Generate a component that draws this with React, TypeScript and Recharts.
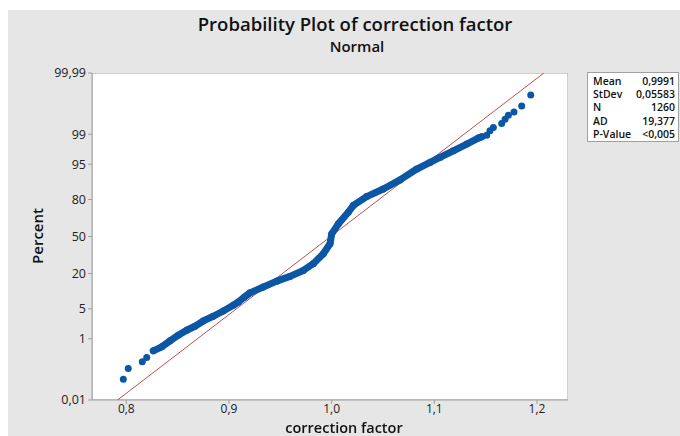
import React from 'react';
import { ScatterChart, Scatter, XAxis, YAxis, CartesianGrid, ReferenceArea } from 'recharts';

// ---- data ----
const xTicks = [0.8, 0.9, 1.0, 1.1, 1.2];
const xGrid = [0.8, 0.85, 0.9, 0.95, 1.0, 1.05, 1.1, 1.15, 1.2];
const yTickPct = [0.01, 1, 5, 20, 50, 80, 95, 99, 99.99];
const yTickLabels = ['0,01', '1', '5', '20', '50', '80', '95', '99', '99,99'];
const yGridPct = [1, 5, 20, 50, 80, 95, 99];

// dense part of the sample (continuous band)
const bandX = [0.8263, 0.8345, 0.8426, 0.8506, 0.8588, 0.8669, 0.875, 0.8847, 0.8945, 0.9042, 0.9091, 0.9146, 0.9205, 0.9334, 0.9465, 0.9594, 0.9724, 0.9821, 0.9919, 0.9984, 1.0001, 1.0065, 1.0162, 1.0211, 1.0341, 1.0503, 1.0666, 1.0829, 1.0958, 1.1055, 1.1185, 1.1316, 1.1428, 1.1462];
const bandPct = [0.465, 0.604, 0.88, 1.24, 1.65, 2.06, 2.74, 3.48, 4.51, 5.88, 6.81, 8.3, 10.0, 12.5, 15.5, 18.2, 22.0, 26.8, 34.7, 43.4, 52.4, 61.3, 70.9, 76.0, 81.8, 86.0, 90.1, 93.76, 95.4, 96.39, 97.44, 98.22, 98.74, 98.83];

// sparse tails (separate dots)
const tailX = [0.7971, 0.8019, 0.8156, 0.8199, 1.151, 1.1542, 1.1575, 1.1656, 1.1689, 1.1721, 1.1776, 1.1851, 1.1939];
const tailPct = [0.058, 0.135, 0.219, 0.297, 98.94, 99.19, 99.34, 99.49, 99.62, 99.71, 99.77, 99.85, 99.936];

// fitted normal line (Mean 0,9991, StDev 0,05583) endpoints
const fitX = [0.7915, 1.2067];
const fitPct = [0.01, 99.99];

const statLabels = ['Mean', 'StDev', 'N', 'AD', 'P-Value'];
const statValues = ['0,9991', '0,05583', '1260', '19,377', '<0,005'];

// ---- probability-scale transform (inverse normal CDF) ----
function probit(p: number): number {
  const a = [-3.969683028665376e1, 2.209460984245205e2, -2.759285104469687e2, 1.38357751867269e2, -3.066479806614716e1, 2.506628277459239];
  const b = [-5.447609879822406e1, 1.615858368580409e2, -1.556989798598866e2, 6.680131188771972e1, -1.328068155288572e1];
  const c = [-7.784894002430293e-3, -3.223964580411365e-1, -2.400758277161838, -2.549732539343734, 4.374664141464968, 2.938163982698783];
  const d = [7.784695709041462e-3, 3.224671290700398e-1, 2.445134137142996, 3.754408661907416];
  const pl = 0.02425;
  let q: number, r: number;
  if (p < pl) {
    q = Math.sqrt(-2 * Math.log(p));
    return (((((c[0] * q + c[1]) * q + c[2]) * q + c[3]) * q + c[4]) * q + c[5]) / ((((d[0] * q + d[1]) * q + d[2]) * q + d[3]) * q + 1);
  }
  if (p <= 1 - pl) {
    q = p - 0.5;
    r = q * q;
    return ((((((a[0] * r + a[1]) * r + a[2]) * r + a[3]) * r + a[4]) * r + a[5]) * q) / (((((b[0] * r + b[1]) * r + b[2]) * r + b[3]) * r + b[4]) * r + 1);
  }
  q = Math.sqrt(-2 * Math.log(1 - p));
  return -(((((c[0] * q + c[1]) * q + c[2]) * q + c[3]) * q + c[4]) * q + c[5]) / ((((d[0] * q + d[1]) * q + d[2]) * q + d[3]) * q + 1);
}
const z = (pct: number) => probit(pct / 100);

const bandData = bandX.map((x, i) => ({ x, z: z(bandPct[i]) }));
const tailData = tailX.map((x, i) => ({ x, z: z(tailPct[i]) }));
const fitData = fitX.map((x, i) => ({ x, z: z(fitPct[i]) }));
const yTicks = yTickPct.map(z);
const yGrid = yGridPct.map(z);
const yMin = z(0.01);
const yMax = z(99.99);
const xMin = 0.7666;
const xMax = 1.2302;

const BLUE = '#0b56a5';
const RED = '#c0504d';
const FONT = '"Open Sans", "Noto Sans", sans-serif';

const Dot = (props: any) => <circle cx={props.cx} cy={props.cy} r={3.5} fill={BLUE} />;
const NoDot = () => null;

const yLabel = (v: number) => {
  const i = yTicks.findIndex((t) => Math.abs(t - v) < 1e-6);
  return i >= 0 ? yTickLabels[i] : '';
};

export default function App() {
  return (
    <div style={{ position: 'fixed', left: 8, top: 10, width: 672, height: 426, background: '#e6e6e6', fontFamily: FONT }}>
      <div style={{ position: 'absolute', left: 147, width: 400, top: 4, textAlign: 'center', fontSize: 18.5, fontWeight: 600, color: '#111', lineHeight: '19px' }}>
        Probability Plot of correction factor
      </div>
      <div style={{ position: 'absolute', left: 149, width: 400, top: 29, textAlign: 'center', fontSize: 15, fontWeight: 600, color: '#111', lineHeight: '15px' }}>
        Normal
      </div>
      <ScatterChart width={672} height={426} margin={{ top: 63, right: 112, bottom: 0, left: 0 }} style={{ position: 'absolute', left: 0, top: 0 }}>
        <ReferenceArea x1={xMin} x2={xMax} y1={yMin} y2={yMax} fill="#ffffff" fillOpacity={1} stroke="none" ifOverflow="hidden" />
        <CartesianGrid stroke="#dcdcdc" strokeDasharray="4 3" verticalValues={xGrid} horizontalValues={yGrid} />
        <XAxis
          type="number"
          dataKey="x"
          domain={[xMin, xMax]}
          allowDataOverflow
          ticks={xTicks}
          tickFormatter={(v: number) => v.toFixed(1).replace('.', ',')}
          height={36}
          tickSize={4}
          tickMargin={0}
          axisLine={{ stroke: '#a0a0a0' }}
          tickLine={{ stroke: '#a0a0a0' }}
          tick={{ fontSize: 12, fill: '#222', fontFamily: FONT }}
        />
        <YAxis
          type="number"
          dataKey="z"
          domain={[yMin, yMax]}
          allowDataOverflow
          ticks={yTicks}
          interval={0}
          tickFormatter={yLabel}
          width={84}
          tickSize={4}
          tickMargin={2}
          axisLine={{ stroke: '#a0a0a0' }}
          tickLine={{ stroke: '#a0a0a0' }}
          tick={{ fontSize: 12.5, fill: '#222', fontFamily: FONT }}
        />
        <ReferenceArea x1={xMin} x2={xMax} y1={yMin} y2={yMax} fill="none" stroke="#a0a0a0" strokeWidth={1} ifOverflow="hidden" />
        <Scatter data={fitData} line={{ stroke: RED, strokeWidth: 1 }} lineType="joint" shape={NoDot} isAnimationActive={false} />
        <Scatter data={bandData} line={{ stroke: BLUE, strokeWidth: 7, strokeLinejoin: 'round', strokeLinecap: 'round' }} lineType="joint" shape={Dot} isAnimationActive={false} />
        <Scatter data={tailData} shape={Dot} isAnimationActive={false} />
      </ScatterChart>
      <div style={{ position: 'absolute', left: 29 - 40, top: 226 - 10, width: 80, height: 20, transform: 'rotate(-90deg)', textAlign: 'center', fontSize: 15, fontWeight: 600, color: '#111', lineHeight: '20px' }}>
        Percent
      </div>
      <div style={{ position: 'absolute', left: 336 - 100, width: 200, top: 410, textAlign: 'center', fontSize: 14.5, fontWeight: 600, color: '#111', lineHeight: '15px' }}>
        correction factor
      </div>
      <div style={{ position: 'absolute', left: 579, top: 62, width: 92, height: 70, boxSizing: 'border-box', background: '#fff', border: '1px solid #a0a0a0', padding: '2px 3px 0 5px', fontSize: 10.5, fontWeight: 600, color: '#111' }}>
        {statLabels.map((l, i) => (
          <div key={l} style={{ display: 'flex', justifyContent: 'space-between', lineHeight: '13.2px' }}>
            <span>{l}</span>
            <span>{statValues[i]}</span>
          </div>
        ))}
      </div>
    </div>
  );
}
